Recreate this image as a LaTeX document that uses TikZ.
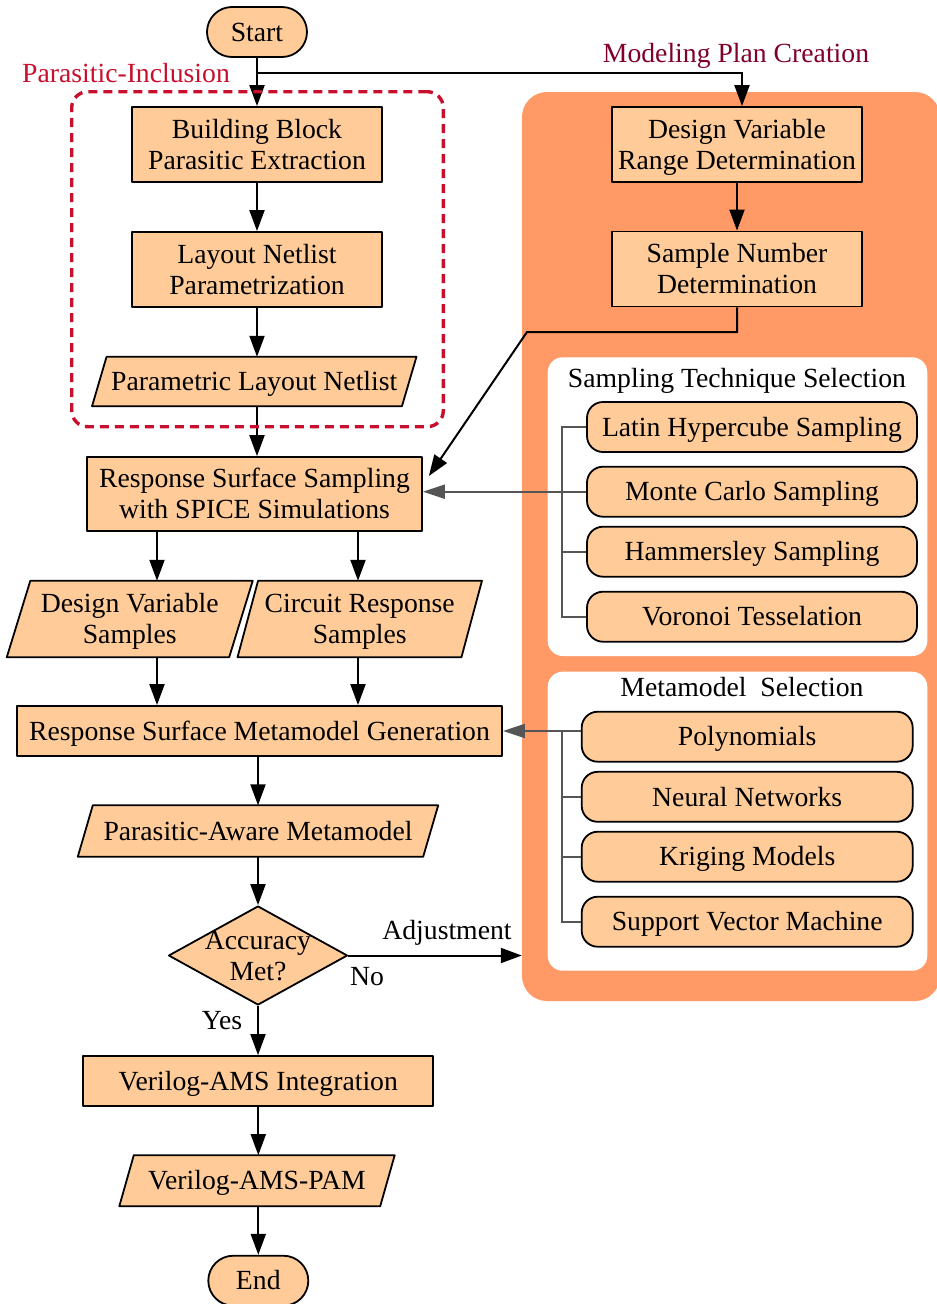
\documentclass[tikz,border=0pt]{standalone}
\usepackage{fontspec}
\setmainfont{Liberation Serif}
\usetikzlibrary{arrows.meta,shapes.geometric,calc}
\pgfdeclarelayer{back}
\pgfsetlayers{back,main}
\definecolor{boxfill}{HTML}{FFCC99}
\definecolor{planbg}{HTML}{FF9966}
\definecolor{pired}{HTML}{C8102E}
\definecolor{mpc}{HTML}{800029}
\definecolor{treegray}{HTML}{555555}
\newcommand\ioshape[2]{%
  \begin{pgfonlayer}{back}
  \draw[boxline, fill=boxfill] ([xshift=#2]#1.north west) -- ([xshift=#2]#1.north east)
     -- ([xshift=-#2]#1.south east) -- ([xshift=-#2]#1.south west) -- cycle;
  \end{pgfonlayer}}
\begin{document}
\begin{tikzpicture}[x=1pt,y=-1pt,
  every node/.style={font=\fontsize{27.7}{31}\selectfont, inner sep=0pt},
  one/.style={text height=18.5pt, text depth=0pt},
  two/.style={align=center, text height=49.5pt, text depth=0pt},
  boxline/.style={draw=black, line width=1.8pt, line join=round},
  procbox/.style={boxline, fill=boxfill, minimum width=250pt, minimum height=75pt},
  iotext/.style={},
  term/.style={boxline, fill=boxfill, rounded corners=25pt, minimum width=100pt, minimum height=50pt, one},
  optbox/.style={boxline, fill=boxfill, rounded corners=16pt, minimum width=330pt, minimum height=50pt, one},
  decision/.style={boxline, fill=boxfill, shape=diamond, minimum width=179pt, minimum height=99pt},
  panel/.style={fill=white, rounded corners=15pt, minimum width=379.6pt},
  planbox/.style={fill=planbg, rounded corners=25pt, minimum width=418pt, minimum height=909pt},
  arr/.style={draw=black, line width=2pt, -{Triangle[length=21pt,width=15pt]}},
  garr/.style={draw=treegray, line width=2pt, -{Triangle[length=22pt,width=14pt]}},
  gline/.style={draw=treegray, line width=2pt},
  pline/.style={draw=black, line width=2pt}
]
\useasboundingbox (0,0) rectangle (937,1304);

% background panels
\begin{pgfonlayer}{back}
\node[planbox] (plan) at (731,546.5) {};
\node[panel, minimum height=298.7pt] (stsp) at (737.5,506.65) {};
\node[panel, minimum height=299pt] (mmsp) at (737.5,821.2) {};
\end{pgfonlayer}

% left column
\node[term] (start) at (257,32) {Start};
\node[procbox, two] (bb) at (257,144.5) {Building Block\\Parasitic Extraction};
\node[procbox, two] (ln) at (257,269.5) {Layout Netlist\\Parametrization};
\node[iotext, one, minimum width=309.5pt, minimum height=49pt] (pln) at (254.25,381.5) {Parametric Layout Netlist};
\ioshape{pln}{7.25pt}
\node[procbox, two, minimum width=335pt, minimum height=74pt] (rss) at (254.5,494) {Response Surface Sampling\\with SPICE Simulations};
\node[iotext, two, minimum width=222pt, minimum height=76pt] (dvs) at (129.75,619) {Design Variable\\Samples};
\ioshape{dvs}{11.75pt}
\node[iotext, two, minimum width=223.5pt, minimum height=76pt] (crs) at (359.75,619) {Circuit Response\\Samples};
\ioshape{crs}{10.25pt}
\node[procbox, one, minimum width=485pt, minimum height=50pt] (rsmg) at (259.5,731) {Response Surface Metamodel Generation};
\node[iotext, one, minimum width=345pt, minimum height=51pt] (pam) at (258,831) {Parasitic-Aware Metamodel};
\ioshape{pam}{7.5pt}
\node[decision] (acc) at (258,955.5) {};
\node[two] (acct) at (acc.center) {Accuracy\\Met?};
\node[procbox, one, minimum width=350pt, minimum height=50pt] (vai) at (258.3,1081) {Verilog-AMS Integration};
\node[iotext, one, minimum width=260.5pt, minimum height=50.7pt] (vap) at (257,1180.7) {Verilog-AMS-PAM};
\ioshape{vap}{7.25pt}
\node[term] (endn) at (258.3,1280.7) {End};

% right column
\node[procbox, two] (dvr) at (737,144.5) {Design Variable\\Range Determination};
\node[procbox, two] (sn) at (737,269) {Sample Number\\Determination};
\node[anchor=base] (ststitle) at (737,387) {Sampling Technique Selection};
\node[optbox] (lhs) at (752,427) {Latin Hypercube Sampling};
\node[optbox] (mcs) at (752,491.7) {Monte Carlo Sampling};
\node[optbox] (hs) at (752,551.7) {Hammersley Sampling};
\node[optbox] (vt) at (752,616.7) {Voronoi Tesselation};
\node[anchor=base] (mmstitle) at (742,696) {Metamodel\ \ Selection};
\node[optbox, minimum width=331pt] (poly) at (747.2,736.7) {Polynomials};
\node[optbox, minimum width=331pt] (nn) at (747.2,796.8) {Neural Networks};
\node[optbox, minimum width=331pt] (kr) at (747.2,856.7) {Kriging Models};
\node[optbox, minimum width=331pt] (svm) at (747.2,921.7) {Support Vector Machine};

% labels
\node[anchor=base, text=pired] (pilbl) at (126,82) {Parasitic-Inclusion};
\node[anchor=base, text=mpc] (mpclbl) at (736,62) {Modeling Plan Creation};
\node[anchor=base] (adjlbl) at (447,939) {Adjustment};
\node[anchor=base] (nolbl) at (367,985) {No};
\node[anchor=base] (yeslbl) at (222,1029) {Yes};

% connectors
\coordinate (br) at ($(start.south)+(0,15)$);
\draw[arr] (start.south) -- (bb.north);
\draw[arr] (br) -| ([xshift=5pt]dvr.north);
\draw[arr] (bb.south) -- (ln.north);
\draw[arr] (ln.south) -- (ln.south |- pln.north);
\draw[arr] (pln.south -| bb.south) -- (rss.north -| bb.south);
\draw[arr] (dvr.south) -- (sn.north);
\coordinate (bend) at (527,332);
\coordinate (rssin) at ([xshift=6pt,yshift=18pt]rss.east);
\draw[arr] (sn.south) -- (sn.south |- bend) -- (bend) -- (rssin);
\coordinate (c1) at (157,0);
\coordinate (c2) at (358,0);
\draw[arr] (rss.south -| c1) -- (dvs.north -| c1);
\draw[arr] (rss.south -| c2) -- (crs.north -| c2);
\draw[arr] (dvs.south -| c1) -- (rsmg.north -| c1);
\draw[arr] (crs.south -| c2) -- (rsmg.north -| c2);
\draw[arr] (rsmg.south -| pam.north) -- (pam.north);
\draw[arr] (pam.south) -- (acc.north);
\draw[arr] (acc.south) -- (acc.south |- vai.north);
\draw[arr] (vai.south) -- (vai.south |- vap.north);
\draw[arr] (vap.south -| vai.south) -- (endn.north);
\draw[arr] (acc.east) -- (acc.east -| plan.west);

% trees
\coordinate (tx) at (562.3,0);
\draw[garr] (mcs.west) -- (rss.east |- mcs.west);
\draw[gline] (lhs.west) -- (lhs.west -| tx) -- (vt.west -| tx) -- (vt.west);
\draw[gline] (hs.west) -- (hs.west -| tx);
\draw[garr] (poly.west |- rsmg.east) -- (rsmg.east);
\draw[gline] (tx |- rsmg.east) -- (tx |- svm.west) -- (svm.west);
\draw[gline] (nn.west) -- (nn.west -| tx);
\draw[gline] (kr.west) -- (kr.west -| tx);

% parasitic-inclusion frame
\node[draw=pired, dash pattern=on 9pt off 6pt, line width=3.4pt, rounded corners=16pt,
      minimum width=371.6pt, minimum height=335pt] (pinc) at (257.5,259.2) {};
\end{tikzpicture}
\end{document}
